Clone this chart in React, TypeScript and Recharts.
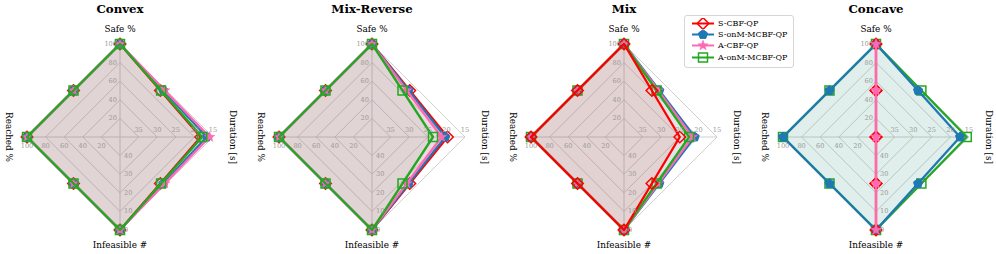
import React from 'react';
import { RadarChart, Radar, PolarGrid, PolarAngleAxis, PolarRadiusAxis } from 'recharts';

// ---------- data ----------
const axisNames = ['Safe %', 'Duration [s]', 'Infeasible #', 'Reached %'];
const scenarioTitles = ['Convex', 'Mix-Reverse', 'Mix', 'Concave'];
const seriesNames = ['S-CBF-QP', 'S-onM-MCBF-QP', 'A-CBF-QP', 'A-onM-MCBF-QP'];

// tick labels for each radial axis (inner ring -> outer ring)
const safeTicks = [20, 40, 60, 80, 100];
const durationTicks = [35, 30, 25, 20, 15];
const infeasibleTicks = [40, 30, 20, 10, 0];
const reachedTicks = [20, 40, 60, 80, 100];
// value at the centre and at the outer ring of each axis
const axisCenterValues = [0, 40, 50, 0];
const axisOuterValues = [100, 15, 0, 100];

// values per series: [Safe %, Duration [s], Infeasible #, Reached %]
const convexSCBF = [100, 18.3, 0, 100];
const convexSonM = [100, 16.7, 0, 100];
const convexACBF = [100, 15.9, 0, 100];
const convexAonM = [100, 17.9, 0, 100];

const mixRevSCBF = [100, 19.7, 0, 100];
const mixRevSonM = [100, 20.3, 0, 100];
const mixRevACBF = [100, 21.3, 0, 100];
const mixRevAonM = [100, 23.6, 0, 100];

const mixSCBF = [100, 25.0, 0, 100];
const mixSonM = [100, 21.0, 0, 100];
const mixACBF = [100, 21.6, 0, 100];
const mixAonM = [100, 22.5, 0, 100];

const concaveSCBF = [100, 40, 0, 0];
const concaveSonM = [100, 17.4, 0, 100];
const concaveACBF = [100, 40, 0, 0];
const concaveAonM = [100, 15.6, 0, 100];

const scenarioValues = [
  [convexSCBF, convexSonM, convexACBF, convexAonM],
  [mixRevSCBF, mixRevSonM, mixRevACBF, mixRevAonM],
  [mixSCBF, mixSonM, mixACBF, mixAonM],
  [concaveSCBF, concaveSonM, concaveACBF, concaveAonM],
];
const drawOrders = [
  [0, 1, 2, 3],
  [0, 1, 2, 3],
  [1, 2, 3, 0],
  [3, 1, 0, 2],
];

// ---------- styles ----------
const seriesColors = ['#ff0000', '#1f77b4', '#ff69b4', '#22a822'];
const seriesFillOpacity = [0.08, 0.075, 0.08, 0.065];
const seriesMarkers = ['diamond', 'pentagon', 'star', 'square'];
const FONT = 'DejaVu Serif';

const norm = (axis: number, v: number) =>
  (v - axisCenterValues[axis]) / (axisOuterValues[axis] - axisCenterValues[axis]);
const denorm = (axis: number, n: number) =>
  Math.round(axisCenterValues[axis] + n * (axisOuterValues[axis] - axisCenterValues[axis]));

const tickLists = [safeTicks, durationTicks, infeasibleTicks, reachedTicks];

function buildRows(values: number[][]) {
  return axisNames.map((name, i) => {
    const row: any = { axis: name };
    values.forEach((vals, s) => {
      row['s' + s] = norm(i, vals[i]);
    });
    return row;
  });
}

function Marker({ kind, x, y, color }: { kind: string; x: number; y: number; color: string }) {
  if (kind === 'diamond') {
    const r = 5.8;
    return (
      <polygon
        points={`${x},${y - r} ${x + r},${y} ${x},${y + r} ${x - r},${y}`}
        fill="none"
        stroke={color}
        strokeWidth={1.5}
      />
    );
  }
  if (kind === 'pentagon') {
    const r = 4.8;
    const pts = [0, 1, 2, 3, 4]
      .map((k) => {
        const a = ((-90 + 72 * k) * Math.PI) / 180;
        return `${x + r * Math.cos(a)},${y + r * Math.sin(a)}`;
      })
      .join(' ');
    return <polygon points={pts} fill={color} stroke={color} strokeWidth={1} />;
  }
  if (kind === 'star') {
    const pts = Array.from({ length: 10 }, (_, k) => {
      const r = k % 2 === 0 ? 5.4 : 2.2;
      const a = ((-90 + 36 * k) * Math.PI) / 180;
      return `${x + r * Math.cos(a)},${y + r * Math.sin(a)}`;
    }).join(' ');
    return <polygon points={pts} fill={color} stroke={color} strokeWidth={0.5} />;
  }
  const h = 4.5;
  return <rect x={x - h} y={y - h} width={2 * h} height={2 * h} fill="none" stroke={color} strokeWidth={1.5} />;
}

const makeShape = (s: number) => (props: any) => {
  const pts: { x: number; y: number }[] = props.points || [];
  if (!pts.length) return <g />;
  const d = pts.map((p, i) => `${i ? 'L' : 'M'}${p.x},${p.y}`).join(' ') + ' Z';
  const mids = pts.map((p, i) => {
    const q = pts[(i + 1) % pts.length];
    return { x: (p.x + q.x) / 2, y: (p.y + q.y) / 2 };
  });
  const color = seriesColors[s];
  return (
    <g>
      <path d={d} fill={color} fillOpacity={seriesFillOpacity[s]} stroke="none" />
      <path d={d} fill="none" stroke={color} strokeWidth={2.3} strokeLinejoin="round" />
      {[...pts, ...mids].map((p, i) => (
        <Marker key={i} kind={seriesMarkers[s]} x={p.x} y={p.y} color={color} />
      ))}
    </g>
  );
};

const AngleTick = (props: any) => {
  const { x, y, payload } = props;
  const i = axisNames.indexOf(payload.value);
  const common: any = { fontFamily: FONT, fontSize: 8.9, fill: '#000', textAnchor: 'middle', dominantBaseline: 'central' };
  if (i === 0) return <text x={x} y={y - 7} {...common}>{payload.value}</text>;
  if (i === 2) return <text x={x} y={y + 7} {...common}>{payload.value}</text>;
  const tx = i === 1 ? x + 12 : x - 10;
  return (
    <text x={tx} y={y} transform={`rotate(90 ${tx} ${y})`} {...common}>
      {payload.value}
    </text>
  );
};

const makeRadTick = (axis: number) => (props: any) => {
  const { x, y, payload } = props;
  const label = String(denorm(axis, payload.value));
  const base: any = { fontFamily: FONT, fontSize: 6.6, fill: '#999', dominantBaseline: 'central' };
  if (axis === 0) return <text x={x - 3} y={y} textAnchor="end" {...base}>{label}</text>;
  if (axis === 1) return <text x={x} y={y - 7} textAnchor="middle" {...base}>{label}</text>;
  if (axis === 2) return <text x={x + 4} y={y} textAnchor="start" {...base}>{label}</text>;
  return <text x={x} y={y + 9} textAnchor="middle" {...base}>{label}</text>;
};

const radAxisIds = ['safe', 'dur', 'inf', 'reach'];
const radAxisAngles = [90, 0, -90, 180];

function Panel({ idx }: { idx: number }) {
  const rows = buildRows(scenarioValues[idx]);
  return (
    <RadarChart
      width={252}
      height={254}
      data={rows}
      cx={120}
      cy={137}
      outerRadius={93}
      startAngle={90}
      endAngle={-270}
      margin={{ top: 0, right: 0, bottom: 0, left: 0 }}
    >
      <PolarGrid gridType="polygon" stroke="#c4c4c4" strokeWidth={0.8} />
      <PolarAngleAxis dataKey="axis" tick={<AngleTick />} tickLine={false} axisLine={false} />
      <PolarRadiusAxis
        angle={90}
        domain={[0, 1]}
        allowDataOverflow
        ticks={safeTicks.map((t) => norm(0, t)) as any}
        tick={false}
        axisLine={false}
        tickLine={false}
      />
      {radAxisIds.map((id, a) => (
        <PolarRadiusAxis
          key={id}
          radiusAxisId={id}
          angle={radAxisAngles[a]}
          domain={[0, 1]}
          allowDataOverflow
          ticks={tickLists[a].map((t) => norm(a, t)) as any}
          tick={makeRadTick(a)}
          axisLine={false}
          tickLine={false}
        />
      ))}
      {drawOrders[idx].map((s) => (
        <Radar
          key={s}
          name={seriesNames[s]}
          dataKey={'s' + s}
          stroke={seriesColors[s]}
          fill={seriesColors[s]}
          dot={false}
          shape={makeShape(s)}
          isAnimationActive={false}
        />
      ))}
    </RadarChart>
  );
}

function LegendBox() {
  return (
    <div
      style={{
        position: 'absolute',
        left: 684,
        top: 15,
        width: 110,
        height: 53,
        border: '1px solid #d6d6d6',
        borderRadius: 3,
        background: 'rgba(255,255,255,0.85)',
        boxSizing: 'border-box',
        paddingTop: 2,
        zIndex: 10,
      }}
    >
      {seriesNames.map((name, s) => (
        <div key={name} style={{ display: 'flex', alignItems: 'center', height: 11.2 }}>
          <svg width={30} height={11} style={{ display: 'block' }}>
            <line x1={7} y1={5.5} x2={29} y2={5.5} stroke={seriesColors[s]} strokeWidth={2} />
            <Marker kind={seriesMarkers[s]} x={18} y={5.5} color={seriesColors[s]} />
          </svg>
          <span style={{ fontFamily: FONT, fontSize: 8, marginLeft: 3, color: '#000', whiteSpace: 'nowrap' }}>
            {name}
          </span>
        </div>
      ))}
    </div>
  );
}

export default function App() {
  return (
    <div style={{ position: 'absolute', left: 0, top: 0, width: 996, height: 254, background: '#fff', overflow: 'hidden' }}>
      {scenarioTitles.map((t, i) => (
        <div key={t} style={{ position: 'absolute', left: 252 * i, top: 0, width: 240, height: 254 }}>
          <div
            style={{
              position: 'absolute',
              left: 0,
              top: 1,
              width: 240,
              textAlign: 'center',
              fontFamily: FONT,
              fontWeight: 'bold',
              fontSize: 11.8,
              lineHeight: '16px',
              color: '#000',
            }}
          >
            {t}
          </div>
          <Panel idx={i} />
        </div>
      ))}
      <LegendBox />
    </div>
  );
}
